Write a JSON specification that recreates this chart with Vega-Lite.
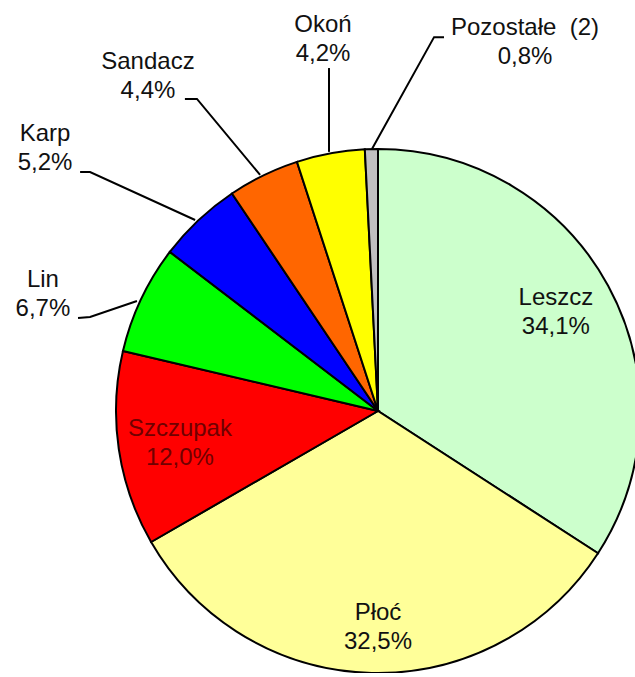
{
  "$schema": "https://vega.github.io/schema/vega-lite/v6.json",
  "width": 524,
  "height": 524,
  "autosize": {"type": "none"},
  "padding": {"left": 116, "top": 149, "right": 0, "bottom": 0},
  "background": "white",
  "config": {"view": {"stroke": null}},
  "datasets": {
    "slices": [
      {"idx": 1, "name": "Leszcz", "value": 34.1},
      {"idx": 2, "name": "Płoć", "value": 32.5},
      {"idx": 3, "name": "Szczupak", "value": 12.0},
      {"idx": 4, "name": "Lin", "value": 6.7},
      {"idx": 5, "name": "Karp", "value": 5.2},
      {"idx": 6, "name": "Sandacz", "value": 4.4},
      {"idx": 7, "name": "Okoń", "value": 4.2},
      {"idx": 8, "name": "Pozostałe (2)", "value": 0.8}
    ],
    "labels": [
      {"name": "Leszcz", "label": "Leszcz\n34,1%", "u": 0.679, "v": 0.431, "dark": false},
      {"name": "Płoć", "label": "Płoć\n32,5%", "u": 0.0, "v": -0.771, "dark": false},
      {"name": "Szczupak", "label": "Szczupak\n12,0%", "u": -0.756, "v": -0.07, "dark": true},
      {"name": "Lin", "label": "Lin\n6,7%", "u": -1.279, "v": 0.5, "dark": false},
      {"name": "Karp", "label": "Karp\n5,2%", "u": -1.271, "v": 1.057, "dark": false},
      {"name": "Sandacz", "label": "Sandacz\n4,4%", "u": -0.878, "v": 1.332, "dark": false},
      {"name": "Okoń", "label": "Okoń\n4,2%", "u": -0.21, "v": 1.473, "dark": false},
      {"name": "Pozostałe", "label": "Pozostałe\u00a0 (2)\n0,8%", "u": 0.561, "v": 1.462, "dark": false}
    ],
    "leaders": [
      {"line": "Lin", "ord": 1, "u": -1.145, "v": 0.355},
      {"line": "Lin", "ord": 2, "u": -1.099, "v": 0.359},
      {"line": "Lin", "ord": 3, "u": -0.920, "v": 0.420},
      {"line": "Karp", "ord": 1, "u": -1.137, "v": 0.912},
      {"line": "Karp", "ord": 2, "u": -1.099, "v": 0.912},
      {"line": "Karp", "ord": 3, "u": -0.698, "v": 0.729},
      {"line": "Sandacz", "ord": 1, "u": -0.737, "v": 1.191},
      {"line": "Sandacz", "ord": 2, "u": -0.691, "v": 1.191},
      {"line": "Sandacz", "ord": 3, "u": -0.450, "v": 0.901},
      {"line": "Okoń", "ord": 1, "u": -0.187, "v": 1.309},
      {"line": "Okoń", "ord": 2, "u": -0.187, "v": 0.989},
      {"line": "Pozostałe", "ord": 1, "u": 0.252, "v": 1.427},
      {"line": "Pozostałe", "ord": 2, "u": 0.214, "v": 1.427},
      {"line": "Pozostałe", "ord": 3, "u": -0.023, "v": 1.000}
    ]
  },
  "layer": [
    {
      "data": {"name": "slices"},
      "mark": {"type": "arc", "stroke": "black", "strokeWidth": 2},
      "encoding": {
        "theta": {"field": "value", "type": "quantitative", "stack": true},
        "order": {"field": "idx", "type": "quantitative"},
        "color": {
          "field": "name",
          "type": "nominal",
          "legend": null,
          "scale": {
            "domain": ["Leszcz", "Płoć", "Szczupak", "Lin", "Karp", "Sandacz", "Okoń", "Pozostałe (2)"],
            "range": ["#ccffcc", "#ffff99", "#ff0000", "#00ff00", "#0000ff", "#ff6600", "#ffff00", "#c0c0c0"]
          }
        }
      }
    },
    {
      "data": {"name": "leaders"},
      "mark": {"type": "line", "color": "black", "strokeWidth": 2, "clip": false},
      "encoding": {
        "x": {"field": "u", "type": "quantitative", "axis": null, "scale": {"domain": [-1, 1], "nice": false, "zero": false}},
        "y": {"field": "v", "type": "quantitative", "axis": null, "scale": {"domain": [-1, 1], "nice": false, "zero": false}},
        "detail": {"field": "line", "type": "nominal"},
        "order": {"field": "ord", "type": "quantitative"}
      }
    },
    {
      "data": {"name": "labels"},
      "mark": {"type": "text", "font": "Liberation Sans", "fontSize": 24, "lineBreak": "\n", "lineHeight": 29, "align": "center", "baseline": "middle", "clip": false},
      "encoding": {
        "x": {"field": "u", "type": "quantitative", "axis": null, "scale": {"domain": [-1, 1], "nice": false, "zero": false}},
        "y": {"field": "v", "type": "quantitative", "axis": null, "scale": {"domain": [-1, 1], "nice": false, "zero": false}},
        "text": {"field": "label", "type": "nominal"},
        "color": {"condition": {"test": "datum.dark", "value": "#700000"}, "value": "#111111"}
      }
    }
  ]
}
